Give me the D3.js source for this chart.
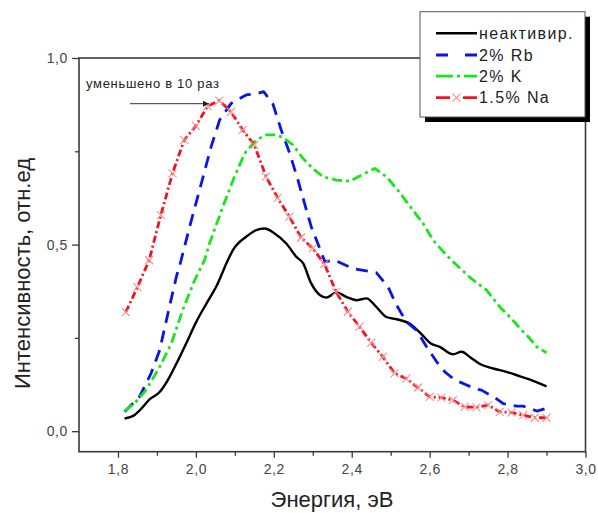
<!DOCTYPE html>
<html><head><meta charset="utf-8">
<script src="https://cdn.jsdelivr.net/npm/d3@7"></script>
<style>body{margin:0;background:#fff}svg{display:block;font-family:"Liberation Sans",Arial,sans-serif}</style>
</head><body><svg id="c" width="598" height="513"></svg>
<script>
const seriesNames = ["неактивир.", "2% Rb", "2% K", "1.5% Na"];
const xTicks = [1.8, 2.0, 2.2, 2.4, 2.6, 2.8, 3.0];
const xTickLabels = ["1,8", "2,0", "2,2", "2,4", "2,6", "2,8", "3,0"];
const yTicks = [0.0, 0.5, 1.0];
const yTickLabels = ["0,0", "0,5", "1,0"];
const xTitle = "Энергия, эВ";
const yTitle = "Интенсивность, отн.ед";
const annotation = "уменьшено в 10 раз";

const blackE = [1.817,1.842,1.864,1.881,1.907,1.928,1.950,1.975,2.001,2.027,2.052,2.082,2.095,2.129,2.155,2.176,2.202,2.232,2.258,2.275,2.296,2.318,2.335,2.361,2.386,2.412,2.438,2.463,2.489,2.515,2.552,2.579,2.603,2.626,2.660,2.682,2.703,2.729,2.763,2.797,2.832,2.866,2.900];
const blackV = [0.034,0.043,0.065,0.085,0.105,0.137,0.181,0.235,0.293,0.342,0.387,0.458,0.485,0.521,0.539,0.543,0.530,0.503,0.467,0.450,0.396,0.365,0.358,0.372,0.360,0.351,0.356,0.333,0.306,0.300,0.286,0.260,0.235,0.226,0.206,0.213,0.199,0.180,0.168,0.159,0.147,0.135,0.120];

const rbE = [1.817,1.855,1.885,1.907,1.932,1.950,1.962,1.984,2.014,2.039,2.061,2.091,2.129,2.159,2.174,2.198,2.219,2.241,2.262,2.279,2.296,2.313,2.331,2.356,2.403,2.463,2.493,2.515,2.540,2.566,2.592,2.618,2.639,2.665,2.686,2.716,2.733,2.767,2.789,2.823,2.840,2.875,2.900];
const rbV = [0.052,0.092,0.155,0.217,0.333,0.414,0.458,0.548,0.664,0.762,0.834,0.879,0.901,0.905,0.910,0.876,0.807,0.744,0.673,0.610,0.548,0.503,0.454,0.458,0.436,0.425,0.387,0.338,0.293,0.271,0.226,0.186,0.159,0.137,0.128,0.114,0.110,0.090,0.074,0.067,0.067,0.054,0.061];

const kE = [1.817,1.842,1.872,1.907,1.937,1.966,1.997,2.022,2.035,2.069,2.099,2.125,2.155,2.181,2.206,2.223,2.249,2.275,2.300,2.326,2.361,2.395,2.425,2.459,2.489,2.523,2.557,2.583,2.609,2.635,2.660,2.708,2.746,2.780,2.810,2.832,2.853,2.875,2.900];
const kV = [0.054,0.074,0.110,0.172,0.235,0.324,0.405,0.458,0.503,0.601,0.682,0.744,0.780,0.794,0.794,0.787,0.767,0.731,0.704,0.682,0.673,0.670,0.686,0.704,0.682,0.640,0.592,0.557,0.512,0.481,0.454,0.408,0.378,0.333,0.302,0.275,0.253,0.226,0.210];

const naE = [1.82,1.85,1.88,1.91,1.94,1.97,2.00,2.03,2.06,2.09,2.12,2.15,2.18,2.21,2.24,2.27,2.30,2.33,2.36,2.39,2.42,2.45,2.48,2.51,2.54,2.57,2.60,2.63,2.66,2.69,2.72,2.75,2.78,2.81,2.84,2.87,2.90];
const naV = [0.319,0.386,0.458,0.579,0.691,0.780,0.818,0.871,0.886,0.856,0.807,0.767,0.682,0.625,0.575,0.519,0.490,0.448,0.373,0.320,0.280,0.237,0.199,0.155,0.141,0.117,0.092,0.090,0.083,0.065,0.064,0.070,0.052,0.050,0.043,0.036,0.036];

const svg = d3.select("#c");
const L = 79, R = 585.5, T = 58, B = 451.7;
const x = d3.scaleLinear().domain([1.7, 3.0]).range([L, R]);
const y = d3.scaleLinear().domain([-0.055, 1.0]).range([B, T]);
const frameColor = "#3a3a3a";

svg.append("defs").append("clipPath").attr("id","clip").append("rect")
  .attr("x",L).attr("y",T).attr("width",R-L).attr("height",B-T);

const xMinor = d3.range(1.9, 3.0, 0.2);
const yMinor = [0.25, 0.75];
const gx = svg.append("g").attr("transform",`translate(0,${B})`);
gx.call(d3.axisBottom(x).tickValues(xTicks).tickSize(6).tickPadding(6)
  .tickFormat((d,i)=>xTickLabels[i]));
gx.append("g").call(d3.axisBottom(x).tickValues(xMinor).tickSize(4).tickFormat(""));
const gy = svg.append("g").attr("transform",`translate(${L},0)`);
gy.call(d3.axisLeft(y).tickValues(yTicks).tickSize(7).tickPadding(4)
  .tickFormat((d,i)=>yTickLabels[i]));
gy.append("g").call(d3.axisLeft(y).tickValues(yMinor).tickSize(4).tickFormat(""));
svg.selectAll(".domain").remove();
svg.selectAll(".tick line").attr("stroke",frameColor).attr("stroke-width",1.3);
svg.selectAll(".tick text").attr("fill","#444").attr("font-size",14).attr("letter-spacing",0.6)
  .attr("font-family","\"Liberation Sans\",Arial,sans-serif");

svg.append("rect").attr("x",L).attr("y",T).attr("width",R-L).attr("height",B-T)
  .attr("fill","none").attr("stroke",frameColor).attr("stroke-width",1.6);

const plot = svg.append("g").attr("clip-path","url(#clip)");
const line = d3.line().x(d=>x(d[0])).y(d=>y(d[1]));
const zip = (a,b)=>a.map((v,i)=>[v,b[i]]);

const styles = [
  {data: zip(blackE, blackV), color:"#000000", dash:null, w:2.4, curve:d3.curveMonotoneX},
  {data: zip(rbE, rbV), color:"#0a14e6", dash:"12,8", w:2.8, curve:d3.curveLinear},
  {data: zip(kE, kV), color:"#19e619", dash:"10,4,3,4", w:2.8, curve:d3.curveLinear},
  {data: zip(naE, naV), color:"#f0141e", dash:"7,3,2,3", w:2.8, curve:d3.curveLinear}
];
styles.forEach(s=>{
  plot.append("path").attr("d", line.curve(s.curve)(s.data)).attr("fill","none")
    .attr("stroke",s.color).attr("stroke-width",s.w)
    .attr("stroke-dasharray",s.dash).attr("stroke-linejoin","round");
});
const mk = 4;
plot.selectAll(".mk").data(styles[3].data).enter().append("path")
  .attr("d",d=>{const cx=x(d[0]),cy=y(d[1]);return `M${cx-mk},${cy-mk}L${cx+mk},${cy+mk}M${cx-mk},${cy+mk}L${cx+mk},${cy-mk}`;})
  .attr("stroke","#f49090").attr("stroke-width",1.1).attr("fill","none");

svg.append("text").attr("x",86).attr("y",87.5).attr("font-size",13).attr("letter-spacing",0.7)
  .attr("fill","#222").text(annotation);
svg.append("defs").append("marker").attr("id","ah").attr("viewBox","0 0 10 10").attr("refX",10).attr("refY",5)
  .attr("markerWidth",8).attr("markerHeight",6).attr("orient","auto").attr("markerUnits","userSpaceOnUse")
  .append("path").attr("d","M0,0L10,5L0,10z").attr("fill","#222");
svg.append("line").attr("x1",130).attr("y1",103.7).attr("x2",209).attr("y2",103.7)
  .attr("stroke","#333").attr("stroke-width",1).attr("marker-end","url(#ah)");

svg.append("text").attr("x",332).attr("y",506.5).attr("text-anchor","middle")
  .attr("font-size",22).attr("fill","#222").text(xTitle);
svg.append("text").attr("transform","translate(29.5,273.5) rotate(-90)").attr("text-anchor","middle")
  .attr("font-size",22).attr("fill","#222").text(yTitle);

const lg = svg.append("g");
lg.append("rect").attr("x",425).attr("y",16.7).attr("width",165).attr("height",105.3).attr("fill","#000");
lg.append("rect").attr("x",420).attr("y",11.7).attr("width",165).attr("height",105.3)
  .attr("fill","#fff").attr("stroke","#555").attr("stroke-width",1);
const rowsY = [33.3, 55, 76.2, 97.7];
seriesNames.forEach((n,i)=>{
  const s = styles[i], yy = rowsY[i];
  if (i === 0) {
    lg.append("line").attr("x1",436).attr("x2",477).attr("y1",yy).attr("y2",yy).attr("stroke",s.color).attr("stroke-width",2.4);
  } else if (i === 1) {
    lg.append("line").attr("x1",436).attr("x2",477).attr("y1",yy).attr("y2",yy).attr("stroke",s.color).attr("stroke-width",2.8).attr("stroke-dasharray","12,17");
  } else if (i === 2) {
    lg.append("line").attr("x1",436).attr("x2",477).attr("y1",yy).attr("y2",yy).attr("stroke",s.color).attr("stroke-width",2.8).attr("stroke-dasharray","17,4,3,4");
  } else {
    lg.append("line").attr("x1",436).attr("x2",477).attr("y1",yy).attr("y2",yy).attr("stroke",s.color).attr("stroke-width",2.8).attr("stroke-dasharray","14,13");
    lg.append("path").attr("d",`M${456.5-mk},${yy-mk}L${456.5+mk},${yy+mk}M${456.5-mk},${yy+mk}L${456.5+mk},${yy-mk}`)
      .attr("stroke","#f49090").attr("stroke-width",1.1);
  }
  lg.append("text").attr("x",479).attr("y",yy+5.5).attr("font-size",16).attr("letter-spacing",1.4)
    .attr("fill","#222").text(n);
});
</script></body></html>
